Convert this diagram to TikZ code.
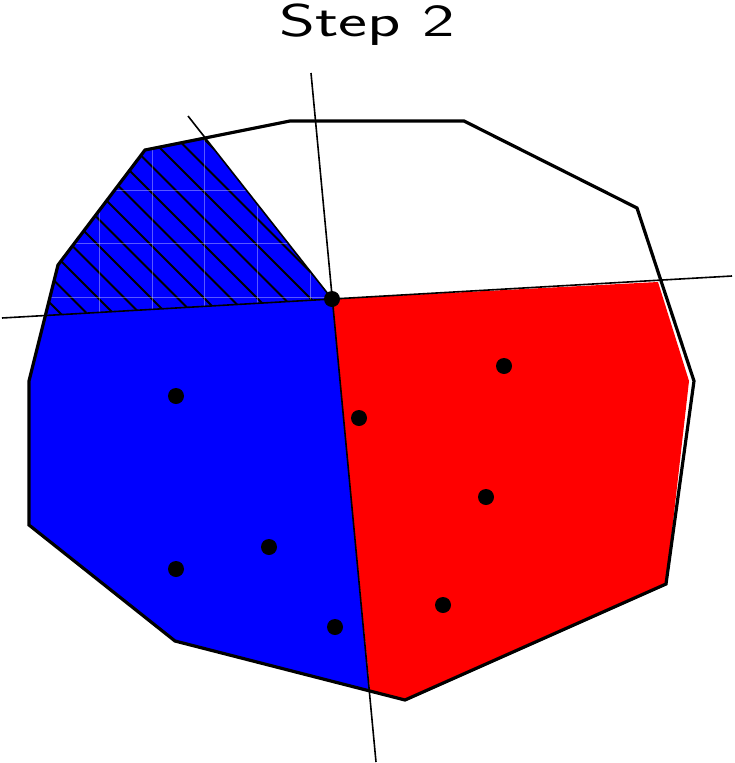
\documentclass[tikz,border=0pt]{standalone}
\begin{document}
\begin{tikzpicture}[x=1pt,y=-1pt,
  outline/.style={line width=3.2pt,line join=miter},
  thinline/.style={line width=1.6pt},
  hatchline/.style={line width=2pt,black},
  gridline/.style={line width=0.9pt,white,opacity=0.35},
  dot/.style={circle,fill=black,inner sep=0pt,minimum size=16pt},
  title/.style={font=\sffamily\fontsize{46}{50}\selectfont,inner sep=0pt}]
\useasboundingbox (0,0) rectangle (734,763);
% key points
\coordinate (C) at (332,299);
\coordinate (P1) at (290,121);
\coordinate (P2) at (464,121);
\coordinate (P3) at (637,208);
\coordinate (P4) at (694,381);
\coordinate (P5) at (666,584);
\coordinate (P6) at (405,700);
\coordinate (P7) at (175,641);
\coordinate (P8) at (29,525);
\coordinate (P9) at (29,381);
\coordinate (P10) at (58,265);
\coordinate (P11) at (145,150);
\coordinate (T) at (204,137);
\coordinate (B) at (370,690);
\coordinate (L) at (46,315);
\coordinate (R) at (658,282);
% blue region
\fill[blue] (T) -- (C) -- (B) -- (P7) -- (P8) -- (P9) -- (P10) -- (P11) -- cycle;
% red region
\fill[red] (C) -- (R) -- (689,381) -- (P5) -- (P6) -- (B) -- cycle;
% hatch
\begin{scope}
  \clip (T) -- (C) -- (L) -- (P10) -- (P11) -- cycle;
  \foreach \k in {-12,...,14} {
    \draw[hatchline] ({-200+26.5*\k},0) -- ({200+26.5*\k},400);
  }
  \foreach \gx in {99,152,204,257,310} {
    \draw[gridline] (\gx,100) -- (\gx,330);
  }
  \foreach \gy in {190,243,297} {
    \draw[gridline] (0,\gy) -- (340,\gy);
  }
\end{scope}
% outline
\draw[outline] (P1) -- (P2) -- (P3) -- (P4) -- (P5) -- (P6) -- (P7) -- (P8) -- (P9) -- (P10) -- (P11) -- cycle;
% thin lines
\coordinate (H1) at (2,318);
\coordinate (H2) at (732,276);
\coordinate (V1) at (311,73);
\coordinate (V2) at (376,762);
\coordinate (D1) at (188,116);
\draw[thinline] (H1) -- (H2);
\draw[thinline] (V1) -- (V2);
\draw[thinline] (D1) -- (C);
% dots
\node[dot] (c0) at (C) {};
\node[dot] (b1) at (176,396) {};
\node[dot] (b2) at (269,547) {};
\node[dot] (b3) at (176,569) {};
\node[dot] (b4) at (335,627) {};
\node[dot] (r1) at (359,418) {};
\node[dot] (r2) at (504,366) {};
\node[dot] (r3) at (486,497) {};
\node[dot] (r4) at (443,605) {};
% title
\node[title] (ttl) at (367,25) {\scalebox{1.5}[1]{Step 2}};
\end{tikzpicture}
\end{document}
